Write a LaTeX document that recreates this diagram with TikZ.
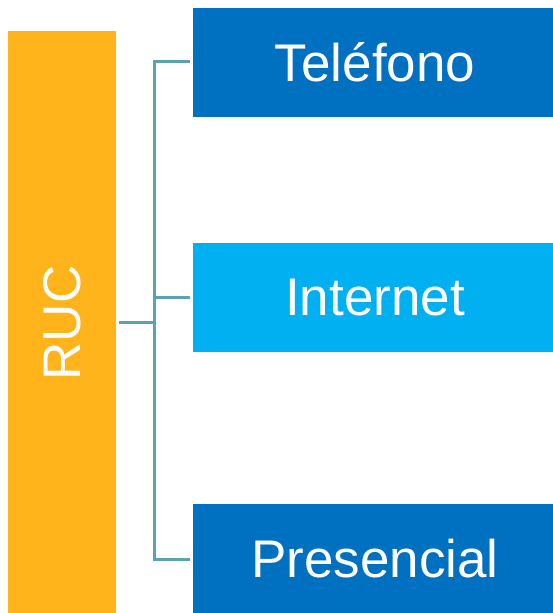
\documentclass[tikz,border=0pt]{standalone}
\usepackage{fontspec}
\setmainfont{Liberation Sans}
\definecolor{rucorange}{HTML}{FFB41C}
\definecolor{darkblue}{HTML}{0070C0}
\definecolor{lightblue}{HTML}{00B0F0}
\definecolor{linkteal}{HTML}{5BA3B2}
\begin{document}
\begin{tikzpicture}[x=1pt,y=1pt,
  box/.style={inner sep=0pt, outer sep=0pt, minimum width=364pt, minimum height=109pt, text=white, font=\fontsize{53}{56}\selectfont},
  link/.style={draw=linkteal, line width=3pt}]
\useasboundingbox (0,0) rectangle (553,613);
\node[box, fill=rucorange, minimum width=108pt, minimum height=584pt] (ruc) at (62,290) {\rotatebox{90}{RUC}};
\node[box, fill=darkblue] (tel) at (375,550.5) {Teléfono};
\node[box, fill=lightblue] (int) at (375,315) {Internet};
\node[box, fill=darkblue] (pre) at (375,54) {Presencial};
\coordinate (top) at (154.5,551);
\coordinate (bot) at (154.5,53);
\coordinate (mid) at (154.5,290);
\draw[link] ([xshift=-3pt]tel.west |- top) -- (top) -- (bot) -- ([xshift=-3pt]pre.west |- bot);
\draw[link] ([xshift=3pt]ruc.east |- mid) -- (mid);
\draw[link] (mid |- int.west) -- ([xshift=-3pt]int.west);
\end{tikzpicture}
\end{document}
